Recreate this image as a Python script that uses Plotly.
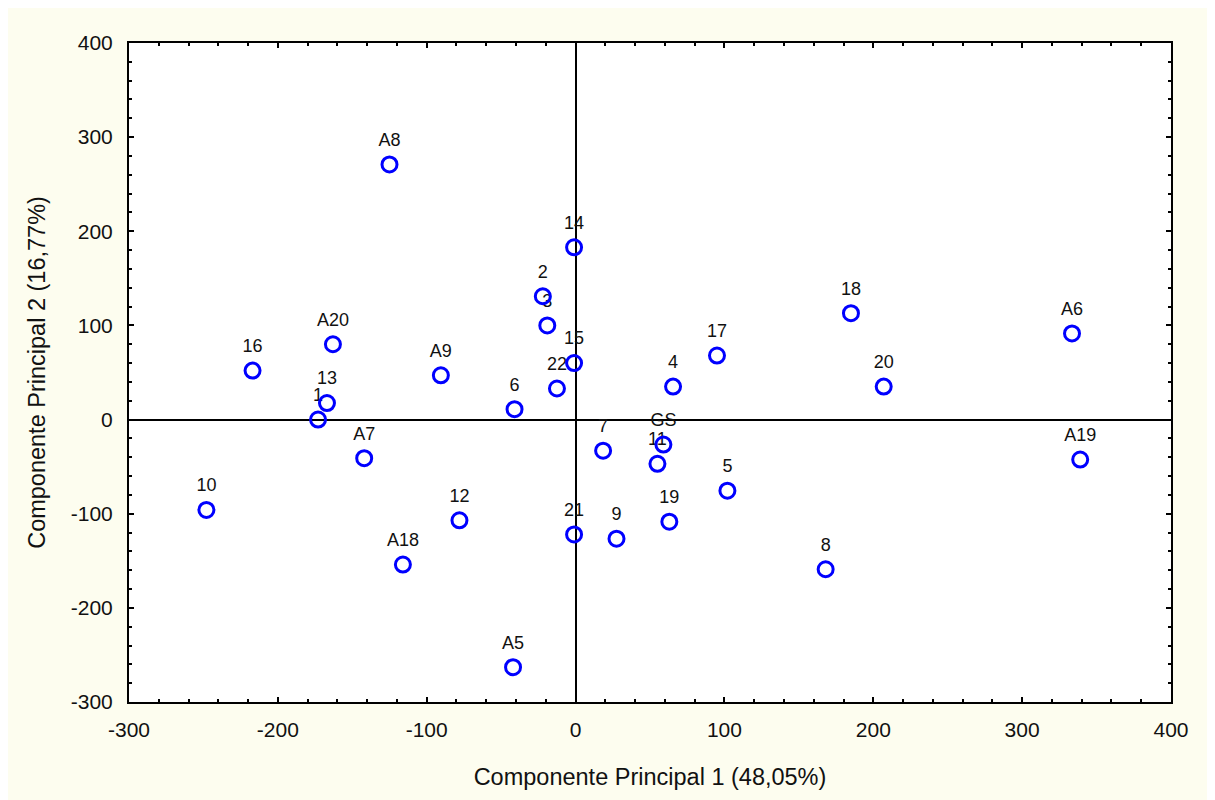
import plotly.graph_objects as go

labels = ["A8", "14", "2", "3", "15", "22", "6", "4", "17", "18", "20", "A6",
          "A19", "5", "8", "GS", "11", "7", "19", "9", "21", "A5", "12", "A18",
          "A7", "10", "16", "A20", "13", "1", "A9"]
pc1 = [-125, -1, -22, -19, -1, -12.5, -41, 65.5, 95, 185, 207, 333.5,
       339, 102, 168, 59, 55, 18.5, 63, 27.5, -1, -42, -78, -116,
       -142, -248, -217, -163, -167, -173, -90.5]
pc2 = [271, 183, 131, 100, 60, 33, 11, 35, 68, 113, 35, 91.5,
       -42.5, -75.5, -159, -26.5, -47, -33, -108.5, -126.5, -122, -263, -107, -154,
       -41, -96, 52, 80, 17.5, 0, 47]

xticks = [-300, -200, -100, 0, 100, 200, 300, 400]
yticks = [-300, -200, -100, 0, 100, 200, 300, 400]
xticktext = ["-300", "-200", "-100", "0", "100", "200", "300", "400"]
yticktext = ["-300", "-200", "-100", "0", "100", "200", "300", "400"]

FONT = "Liberation Sans, Arial, sans-serif"
TXT = "#111111"

fig = go.Figure()
# labels (invisible marker just to set the text offset)
fig.add_trace(go.Scatter(
    x=pc1, y=pc2, mode="markers+text", text=labels,
    textposition="top center",
    textfont=dict(family=FONT, size=18, color=TXT),
    marker=dict(size=21, opacity=0),
    cliponaxis=False, showlegend=False, hoverinfo="skip",
))
# markers drawn over labels
fig.add_trace(go.Scatter(
    x=pc1, y=pc2, mode="markers",
    marker=dict(symbol="circle-open", size=15, color="#0000FF",
                line=dict(width=3, color="#0000FF")),
    cliponaxis=False, showlegend=False,
))

axis_common = dict(
    showgrid=False, zeroline=True, zerolinecolor="black", zerolinewidth=1.6,
    showline=True, linecolor="black", linewidth=2, mirror="ticks",
    ticks="inside", ticklen=5, tickwidth=2, tickcolor="black",
    minor=dict(ticks="inside", ticklen=3, tickwidth=2, tickcolor="black", dtick=20),
    tickfont=dict(family=FONT, size=21, color=TXT),
)

fig.update_xaxes(range=[-300, 400], tickvals=xticks, ticktext=xticktext, **axis_common,
                 ticklabelstandoff=8,
                 title=dict(text="Componente Principal 1 (48,05%)",
                            font=dict(family=FONT, size=23.5, color=TXT),
                            standoff=28))
fig.update_yaxes(range=[-300, 400], tickvals=yticks, ticktext=yticktext, **axis_common,
                 ticklabelstandoff=10,
                 title=dict(text="Componente Principal 2 (16,77%)",
                            font=dict(family=FONT, size=23.5, color=TXT),
                            standoff=19))

W, H = 1215, 800
# page body adds an 8px offset; plot area in screenshot: x 129..1171, y 43..702
l, t = 121, 35
r = W - (1171 - 8)
b = H - (702 - 8)

fig.update_layout(
    width=W, height=H,
    margin=dict(l=l, r=r, t=t, b=b, autoexpand=False),
    paper_bgcolor="#FDFDEF", plot_bgcolor="white",
)

fig.write_html("out.html")
